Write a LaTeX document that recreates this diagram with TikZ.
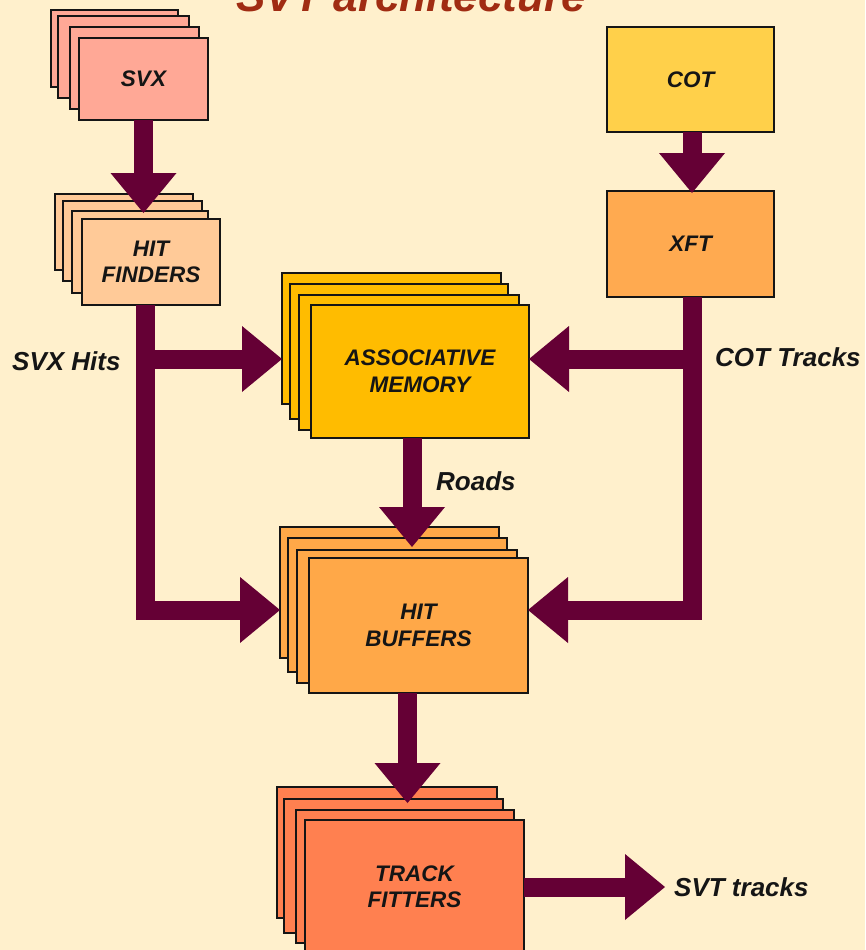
\documentclass[tikz,border=0pt]{standalone}
\usepackage{fontspec}
\setmainfont{Liberation Sans}
\usetikzlibrary{arrows.meta}
\definecolor{bg}{HTML}{FFF0CC}
\definecolor{arr}{HTML}{650035}
\definecolor{csvx}{HTML}{FFA896}
\definecolor{chf}{HTML}{FFCA98}
\definecolor{ccot}{HTML}{FFD04A}
\definecolor{cxft}{HTML}{FFAA50}
\definecolor{cam}{HTML}{FFBC00}
\definecolor{chb}{HTML}{FFA848}
\definecolor{ctf}{HTML}{FF8050}
\definecolor{ctitle}{HTML}{A02C12}
\definecolor{ink}{HTML}{151515}
\tikzset{
  box/.style={draw=ink, line width=1.4pt, inner sep=0pt, outer sep=0pt,
    font=\fontsize{22.5}{26.5}\selectfont\bfseries\itshape, text=ink, align=center},
  lbl/.style={font=\fontsize{26}{30}\selectfont\bfseries\itshape, text=ink, inner sep=0pt},
  flow/.style={line width=19pt, draw=arr, line join=miter,
    -{Triangle[length=40pt,width=66pt,line width=0pt]}}
}
\begin{document}
\begin{tikzpicture}[x=1pt,y=-1pt]
\fill[bg] (0,0) rectangle (865,950);
\useasboundingbox (0,0) rectangle (865,950);
\clip (0,0) rectangle (865,950);

% title
\node[anchor=base, font=\fontsize{44}{50}\selectfont\bfseries\itshape, text=ctitle, inner sep=0pt] (title) at (411,12) {SVT architecture};

% SVX stack
\node[box, fill=csvx, minimum width=127pt, minimum height=77pt] (svx1) at (114.5,48.5) {};
\node[box, fill=csvx, minimum width=131pt, minimum height=82pt] (svx2) at (123.5,57) {};
\node[box, fill=csvx, minimum width=129pt, minimum height=82pt] (svx3) at (134.5,68) {};
\node[box, fill=csvx, minimum width=129pt, minimum height=82pt] (svx4) at (143.5,79) {SVX};

% HIT FINDERS stack
\node[box, fill=chf, minimum width=138pt, minimum height=76pt] (hf1) at (124,232) {};
\node[box, fill=chf, minimum width=139pt, minimum height=80pt] (hf2) at (132.5,241) {};
\node[box, fill=chf, minimum width=136pt, minimum height=82pt] (hf3) at (140,252) {};
\node[box, fill=chf, minimum width=138pt, minimum height=86pt] (hf4) at (151,262) {HIT\\FINDERS};

% COT, XFT
\node[box, fill=ccot, minimum width=167pt, minimum height=105pt] (cot) at (690.5,79.5) {COT};
\node[box, fill=cxft, minimum width=167pt, minimum height=106pt] (xft) at (690.5,244) {XFT};

% ASSOCIATIVE MEMORY stack
\node[box, fill=cam, minimum width=219pt, minimum height=131pt] (am1) at (391.5,338.5) {};
\node[box, fill=cam, minimum width=218pt, minimum height=135pt] (am2) at (399,351.5) {};
\node[box, fill=cam, minimum width=220pt, minimum height=135pt] (am3) at (409,362.5) {};
\node[box, fill=cam, minimum width=218pt, minimum height=133pt] (am4) at (420,371.5) {ASSOCIATIVE\\MEMORY};

% HIT BUFFERS stack
\node[box, fill=chb, minimum width=219pt, minimum height=131pt] (hb1) at (389.5,592.5) {};
\node[box, fill=chb, minimum width=219pt, minimum height=134pt] (hb2) at (397.5,605) {};
\node[box, fill=chb, minimum width=220pt, minimum height=133pt] (hb3) at (407,616.5) {};
\node[box, fill=chb, minimum width=219pt, minimum height=135pt] (hb4) at (418.5,625.5) {HIT\\BUFFERS};

% TRACK FITTERS stack
\node[box, fill=ctf, minimum width=220pt, minimum height=131pt] (tf1) at (387,852.5) {};
\node[box, fill=ctf, minimum width=219pt, minimum height=134pt] (tf2) at (393.5,866) {};
\node[box, fill=ctf, minimum width=218pt, minimum height=133pt] (tf3) at (405,876.5) {};
\node[box, fill=ctf, minimum width=219pt, minimum height=133pt] (tf4) at (414.5,886.5) {TRACK\\FITTERS};

% labels
\node[lbl, anchor=west] (svxhits) at (12,361) {SVX Hits};
\node[lbl, anchor=west] (cottr) at (715,357) {COT Tracks};
\node[lbl, anchor=west] (roads) at (436,481) {Roads};
\node[lbl, anchor=west, inner xsep=9pt] (svt) at (665,887) {SVT tracks};

% junction coordinates
\coordinate (jL1) at (145.5,359);
\coordinate (jL2) at (145.5,610);
\coordinate (jR1) at (692,359);
\coordinate (jR2) at (692,610);
\coordinate (cAM) at (412,0);
\coordinate (cHB) at (407.5,0);

% connectors
\draw[flow] (svx4.south) -- ([yshift=-2pt]svx4.south |- hf3.north);
\draw[flow] (cot.south -| jR1) -- ([yshift=-2pt]xft.north -| jR1);
\draw[flow] (hf4.south -| jL1) -- (jL2) -- (hb1.west |- jL2);
\draw[flow] (jL1) -- (am1.west |- jL1);
\draw[flow] (xft.south -| jR1) -- (jR2) -- (hb4.east |- jR2);
\draw[flow] (jR1) -- (am4.east |- jR1);
\draw[flow] (am4.south -| cAM) -- ([yshift=-9pt]hb2.north -| cAM);
\draw[flow] (hb4.south -| cHB) -- ([yshift=-4pt]tf2.north -| cHB);
\draw[flow] (tf4.east |- svt.west) -- (svt.west);
\end{tikzpicture}
\end{document}
